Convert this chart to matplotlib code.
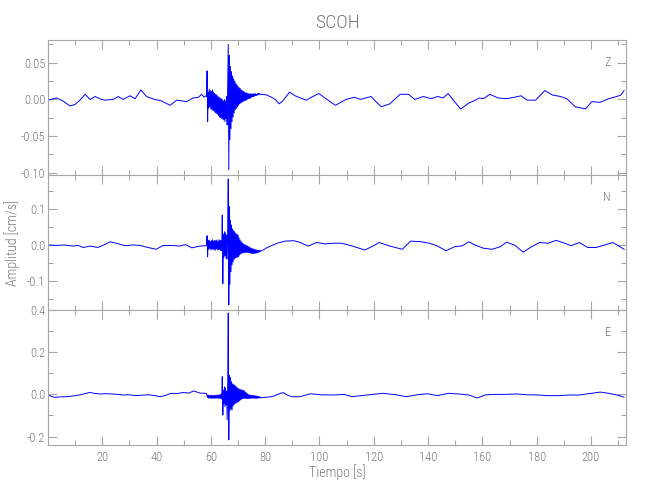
import numpy as np
import matplotlib
matplotlib.use("Agg")
import matplotlib.pyplot as plt
from matplotlib import font_manager
from matplotlib.ticker import MultipleLocator, FormatStrFormatter

# ---- font choice: narrow sans if available ----
_fl = font_manager.fontManager.ttflist
_names = {f.name for f in _fl}
_stretch = 'normal'
_family = ['DejaVu Sans']
for cand in ['Liberation Sans Narrow', 'Roboto Condensed', 'Open Sans Condensed',
             'Noto Sans Condensed', 'Arial Narrow']:
    if cand in _names:
        _family = [cand, 'DejaVu Sans']
        break
else:
    conds = [f for f in _fl if str(f.stretch) in ('condensed', 'semi-condensed', '75', '87')]
    if conds:
        pref = [f for f in conds if f.name in ('Noto Sans', 'Roboto', 'Open Sans', 'DejaVu Sans')]
        pick = (pref or conds)[0]
        _family = [pick.name, 'DejaVu Sans']
        _stretch = 'condensed'
plt.rcParams['font.family'] = _family
plt.rcParams['font.stretch'] = _stretch
plt.rcParams['font.weight'] = 'light'

TITLE = "SCOH"
XLABEL = "Tiempo [s]"
YLABEL = "Amplitud [cm/s]"
COMPONENTS = ["Z", "N", "E"]

# burst sampling (s)
BURST_T0 = 58.4
BURST_DT = 0.2

# ---------------- Z component ----------------
z_pre_t = [0, 3.2, 5.5, 8.1, 9.9, 11.5, 13.7, 15.5, 17.4, 19, 21, 24, 25.9, 27.7, 30.2, 32.1,
           34.2, 36.3, 39.3, 41.8, 45, 47.4, 49.3, 51.1, 53.5, 55.4, 56.6, 57.5, 58.2]
z_pre_v = [-0.001, 0.002, -0.002, -0.009, -0.007, -0.002, 0.007, 0.000, 0.004, 0.001, -0.001, 0.000,
           0.004, 0.000, 0.005, 0.001, 0.013, 0.004, 0.000, -0.002, -0.008, -0.001, -0.002, -0.003,
           0.002, 0.003, 0.007, 0.003, 0.005]
z_burst = [0.004, 0.039, -0.030, 0.010, -0.012, 0.014, -0.010, 0.012, -0.013, 0.011,
           -0.014, 0.013, -0.015, 0.010, -0.016, 0.008, -0.018, 0.007, -0.019, 0.006,
           -0.020, 0.004, -0.022, 0.003, -0.024, 0.002, -0.025, 0.001, -0.026, 0.000,
           -0.027, -0.002, -0.028, 0.000, -0.030, -0.002, -0.026, 0.004, -0.035, 0.020,
           0.075, -0.096, 0.060, -0.055, 0.045, -0.040, 0.038, -0.030, 0.032, -0.024,
           0.028, -0.018, 0.025, -0.014, 0.022, -0.012, 0.020, -0.010, 0.018, -0.008,
           0.016, -0.006, 0.015, -0.005, 0.013, -0.004, 0.012, -0.003, 0.011, -0.002,
           0.010, -0.002, 0.009, -0.001, 0.009, 0.000, 0.008, 0.001, 0.008, 0.001,
           0.007, 0.002, 0.008, 0.003, 0.007, 0.004, 0.008, 0.004, 0.007, 0.005,
           0.008, 0.005, 0.007, 0.006, 0.008, 0.006, 0.008, 0.007, 0.008, 0.007]
z_post_t = [79.0, 80.6, 82.3, 83.7, 85.2, 86.5, 89.0, 91, 93, 95.2, 97, 99.8, 102, 105.9, 107.8,
            109.8, 112.8, 115.1, 117, 119, 120.8, 122.8, 125.9, 129.7, 132.8, 135.1, 138.2, 141.2,
            143.5, 145.5, 147.4, 149.5, 152, 155, 157.4, 158.9, 160.5, 162.7, 165.8, 168.9, 171.9,
            174.2, 176.5, 179.6, 183, 185.8, 188.8, 191.1, 194.2, 198, 200.3, 203.4, 206.5, 209.5,
            211, 212.2]
z_post_v = [0.007, 0.006, 0.003, 0.000, -0.006, -0.002, 0.010, 0.005, 0.002, -0.001, 0.003, 0.008,
            0.002, -0.008, -0.004, 0.000, 0.003, 0.000, 0.002, 0.004, -0.003, -0.010, -0.006, 0.007,
            0.007, 0.000, 0.004, 0.001, 0.004, 0.002, 0.008, -0.002, -0.013, -0.005, -0.001, 0.002,
            0.001, 0.007, 0.002, 0.001, 0.003, 0.005, -0.001, -0.001, 0.012, 0.006, 0.004, 0.001,
            -0.010, -0.013, -0.003, -0.004, 0.001, 0.004, 0.006, 0.012]

# ---------------- N component ----------------
n_pre_t = [0, 3, 6, 9.2, 11, 13, 15.5, 18.4, 20.5, 23, 26.1, 28.4, 31, 33.8, 36.8, 39.9, 42.2,
           45.2, 48.4, 50.7, 53, 56, 58.2]
n_pre_v = [0.000, -0.001, 0.000, -0.003, -0.001, -0.007, -0.003, -0.007, 0.000, 0.009, 0.003,
           -0.002, 0.000, -0.001, -0.007, -0.012, -0.002, -0.001, -0.003, 0.001, -0.008, -0.003,
           -0.002]
n_burst = [0.002, 0.026, -0.033, 0.012, -0.012, 0.014, -0.010, 0.010, -0.014, 0.012,
           -0.011, 0.015, -0.013, 0.011, -0.012, 0.013, -0.015, 0.012, -0.011, 0.014,
           -0.013, 0.010, -0.014, 0.015, -0.012, 0.013, -0.016, 0.012, -0.015, 0.084,
           -0.108, 0.030, -0.035, 0.037, -0.030, 0.034, -0.038, 0.028, -0.040, 0.040,
           0.185, -0.168, 0.108, -0.110, 0.070, -0.075, 0.056, -0.056, 0.045, -0.048,
           0.040, -0.040, 0.037, -0.037, 0.032, -0.035, 0.030, -0.034, 0.028, -0.033,
           0.020, -0.028, 0.014, -0.025, 0.009, -0.023, 0.006, -0.022, 0.003, -0.022,
           0.001, -0.021, 0.000, -0.021, -0.002, -0.021, -0.003, -0.021, -0.005, -0.022,
           -0.007, -0.023, -0.009, -0.023, -0.010, -0.024, -0.011, -0.024, -0.012, -0.023,
           -0.013, -0.023, -0.014, -0.022, -0.015, -0.021, -0.015, -0.020, -0.015, -0.018]
n_post_t = [79.5, 80.5, 82.3, 84.8, 87.5, 90.6, 92.9, 95.9, 99, 102.1, 105.2, 108.2, 112.1, 116.7,
            119.7, 122, 125.9, 130.5, 133.6, 137.4, 140.5, 143.5, 146.6, 149.7, 152.7, 155, 157.3,
            160.4, 163.5, 166.6, 168.9, 172, 175, 178.1, 181.1, 184.2, 187.2, 190.3, 192.7, 195.7,
            198.8, 201.9, 205, 208, 210.3, 212.2]
n_post_v = [-0.013, -0.008, -0.002, 0.006, 0.011, 0.012, 0.007, -0.003, 0.007, 0.003, 0.005, 0.005,
            -0.003, -0.014, -0.003, 0.007, -0.003, -0.012, 0.011, 0.009, 0.005, -0.003, -0.016,
            -0.005, -0.002, 0.009, 0.000, -0.009, -0.012, -0.005, 0.008, -0.001, -0.020, -0.005,
            0.007, 0.005, 0.013, 0.005, -0.002, 0.007, -0.007, -0.007, 0.000, 0.007, -0.003, -0.012]

# ---------------- E component ----------------
e_pre_t = [0, 2.3, 4.5, 6.9, 9, 11.5, 13.5, 15.4, 17.5, 19.2, 21.5, 23.8, 25.7, 27.6, 30, 32.2,
           34.5, 36.8, 39, 41.4, 43.4, 45.3, 47.6, 49.9, 51.8, 53.7, 56, 58.2]
e_pre_v = [-0.003, -0.014, -0.012, -0.011, -0.008, -0.003, 0.003, 0.009, 0.004, 0.002, 0.003,
           0.002, 0.000, -0.003, -0.002, -0.006, -0.004, -0.002, -0.005, -0.011, -0.004, 0.005,
           0.004, 0.009, 0.006, 0.016, 0.006, 0.005]
e_burst = [0.004, -0.008, -0.014, -0.004, -0.018, -0.005, -0.017, -0.006, -0.019, -0.004,
           -0.018, -0.006, -0.020, -0.005, -0.017, -0.004, -0.019, -0.006, -0.018, -0.003,
           -0.017, -0.005, -0.019, -0.002, -0.018, -0.001, -0.020, 0.002, -0.022, 0.084,
           -0.098, 0.020, -0.045, 0.036, -0.058, 0.030, -0.050, 0.015, -0.120, 0.050,
           0.385, -0.216, 0.090, -0.075, 0.080, -0.070, 0.060, -0.074, 0.050, -0.055,
           0.046, -0.048, 0.044, -0.043, 0.038, -0.040, 0.033, -0.037, 0.028, -0.035,
           0.026, -0.030, 0.024, -0.026, 0.021, -0.022, 0.020, -0.020, 0.018, -0.019,
           0.016, -0.019, 0.010, -0.020, 0.006, -0.020, 0.002, -0.020, -0.002, -0.019,
           -0.003, -0.019, -0.004, -0.018, -0.005, -0.018, -0.005, -0.018, -0.006, -0.018,
           -0.007, -0.019, -0.008, -0.019, -0.009, -0.018, -0.010, -0.018, -0.011, -0.016]
e_post_t = [79, 81, 83, 85.6, 86.7, 88.2, 89.8, 92.8, 96.7, 100.6, 105.2, 109, 112, 115.9, 119.7,
            123.6, 128.2, 132, 135.9, 139.7, 143.5, 147.4, 151.2, 155, 158.1, 161.2, 165, 168.9,
            172.7, 176.5, 180.4, 184.2, 188, 191.9, 195.7, 199.1, 203.4, 206.5, 209.5, 212.2]
e_post_v = [-0.015, -0.013, -0.009, 0.005, 0.008, -0.003, -0.011, -0.011, 0.003, -0.002, -0.003,
            0.000, -0.011, -0.005, 0.000, 0.005, -0.002, -0.011, -0.002, 0.003, -0.006, 0.005,
            0.002, -0.003, -0.017, -0.002, 0.000, 0.000, 0.002, -0.002, -0.003, -0.006, -0.006,
            -0.003, -0.003, 0.003, 0.011, 0.005, -0.003, -0.013]

YLIMS = [(-0.103, 0.081), (-0.182, 0.196), (-0.240, 0.400)]
YMAJOR = [0.05, 0.1, 0.2]
YMINOR = [0.025, 0.05, 0.1]
YFMT = ['%.2f', '%.1f', '%.1f']
XLIM = (0.01, 212.9)


def build(pre_t, pre_v, burst, post_t, post_v):
    bt = BURST_T0 + BURST_DT * np.arange(len(burst))
    t = np.concatenate([pre_t, bt, post_t])
    v = np.concatenate([pre_v, burst, post_v])
    return t, v


traces = [build(z_pre_t, z_pre_v, z_burst, z_post_t, z_post_v),
          build(n_pre_t, n_pre_v, n_burst, n_post_t, n_post_v),
          build(e_pre_t, e_pre_v, e_burst, e_post_t, e_post_v)]

SPINE = '#a6a6a6'
TXT = '#7a7a7a'

fig = plt.figure(figsize=(6.5, 5.0), dpi=100)
bottoms = [0.65, 0.38, 0.11]
axes = []
for i, (t, v) in enumerate(traces):
    ax = fig.add_axes([48 / 650, bottoms[i], 578 / 650, 0.27])
    ax.plot(t, v, color='#0000ff', lw=0.7)
    ax.set_xlim(*XLIM)
    ax.set_ylim(*YLIMS[i])
    ax.xaxis.set_major_locator(MultipleLocator(20))
    ax.xaxis.set_minor_locator(MultipleLocator(10))
    ax.yaxis.set_major_locator(MultipleLocator(YMAJOR[i]))
    ax.yaxis.set_minor_locator(MultipleLocator(YMINOR[i]))
    ax.yaxis.set_major_formatter(FormatStrFormatter(YFMT[i]))
    ax.tick_params(which='both', direction='in', top=True, right=True, color=SPINE,
                   labelcolor=TXT, labelsize=9, width=0.8)
    ax.tick_params(which='major', length=6.5, pad=2)
    ax.tick_params(which='minor', length=3.6)
    for s in ax.spines.values():
        s.set_color(SPINE)
        s.set_linewidth(0.8)
    if i < 2:
        ax.tick_params(labelbottom=False)
    ax.text(0.974, 0.837, COMPONENTS[i], transform=ax.transAxes, ha='right', va='center',
            color=TXT, fontsize=9)
    axes.append(ax)

axes[2].tick_params(axis='x', pad=4)

fig.text(337 / 650, 1 - 23 / 500, TITLE, ha='center', va='center', color=TXT, fontsize=14)
fig.text(337 / 650, 1 - 472 / 500, XLABEL, ha='center', va='center', color=TXT, fontsize=10)
fig.text(12.5 / 650, 1 - 243 / 500, YLABEL, ha='center', va='center', rotation=90,
         color=TXT, fontsize=10)

fig.savefig('out.png', dpi=100, facecolor='white')
